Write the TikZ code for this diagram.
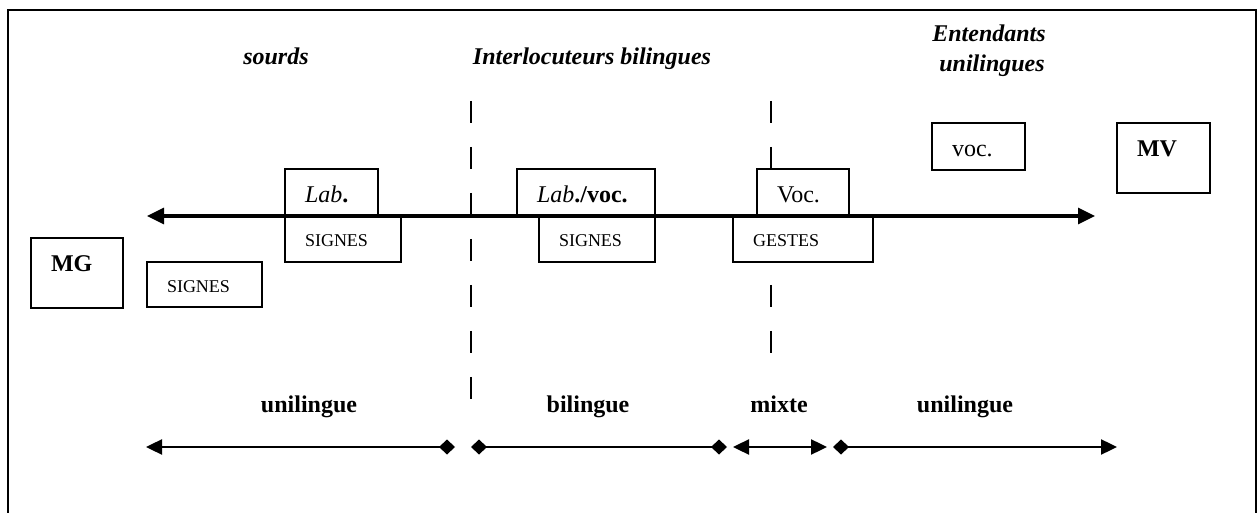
\documentclass[tikz,border=0pt]{standalone}
\usepackage{fontspec}
\setmainfont{Liberation Serif}
\usetikzlibrary{arrows.meta}
\usetikzlibrary{positioning}
\newcommand{\tBig}{\fontsize{12}{15}\selectfont}
\newcommand{\tSmall}{\fontsize{9}{11}\selectfont}
\newcommand{\tLab}{\textit{Lab}}

\begin{document}
\begin{tikzpicture}[x=0.5pt,y=-0.5pt,font=\tBig,
		big/.tip={Triangle[length=8.5pt,width=8pt]},
		tri/.tip={Triangle[length=8pt,width=7.5pt]},
		dia/.tip={Diamond[length=8pt,width=7.5pt]},
		frame/.style={line width=1pt},
		sep/.style={line width=0.9pt,dash pattern=on 11pt off 12pt},
		box/.style 2 args={rectangle,draw,fill=white,line width=0.65pt,outer sep=0pt,anchor=north west,
			align=left,inner xsep=10pt,inner ysep=0pt,text height=17pt,text width=#1,text depth=#2},
		small/.style={font=\tSmall,text height=15.5pt},
		head/.style={font=\tBig\bfseries\itshape,anchor=base},
		zone/.style={font=\tBig\bfseries,anchor=base}]
		\useasboundingbox (0,0) rectangle (1259,513);
		\draw[frame] (8,520) -- (8,10) -- (1256,10) -- (1256,520);
		
		\coordinate (d1t) at (471,101);
		\coordinate (d1b) at (471,401);
		\coordinate (d2t) at (771,101);
		\coordinate (d2b) at (771,355);
		\draw[sep] (d1t) -- (d1b);
		\draw[sep] (d2t) -- (d2b);
		
		\node[box={26.5pt}{6.5pt}]  (lab)     at (285,169)   {\tLab\textbf{.}};
		\node[box={38pt}{7.5pt},small,below right=0pt and 0pt of lab.south west] (signesA) {SIGNES};
		\node[box={26pt}{18pt}]     (mg)      at (31,238)    {\textbf{MG}};
		\node[box={37.5pt}{7pt},small] (signesB) at (147,262) {SIGNES};
		\node[box={49pt}{6.5pt}]    (labvoc)  at (517,169)   {\tLab\textbf{./voc.}};
		\node[box={38pt}{7.5pt},small,below left=0pt and 0pt of labvoc.south east] (signesC) {SIGNES};
		\node[box={26pt}{6.5pt}]    (voc)     at (757,169)   {Voc.};
		\node[box={50pt}{7.5pt},small] (gestes) at (733,216) {GESTES};
		\node[box={26.5pt}{6.5pt}]  (vocB)    at (932,123)   {voc.};
		\node[box={26.5pt}{18pt}]   (mv)      at (1117,123)  {\textbf{MV}};
		
		\coordinate (axL) at (147,216);
		\coordinate (axR) at (1095,216);
		\draw[line width=1.6pt,arrows=big-big] (axL) -- (axR);
		
		\node[head] (sourds)     at (276,65)  {sourds};
		\node[head] (interloc)   at (592,65)  {Interlocuteurs bilingues};
		\node[head] (entendants) at (989,42)  {Entendants};
		\node[head] (unilingues) at (992,72)  {unilingues};
		
		\node[zone] (uniA)  at (309,412) {unilingue};
		\node[zone] (bil)   at (588,412) {bilingue};
		\node[zone] (mixte) at (779,412) {mixte};
		\node[zone] (uniB)  at (965,412) {unilingue};
		
		\coordinate (s0) at (146,447);
		\coordinate (s1) at (455,447);
		\coordinate (s2) at (471,447);
		\coordinate (s3) at (727,447);
		\coordinate (s4) at (733,447);
		\coordinate (s5) at (827,447);
		\coordinate (s6) at (833,447);
		\coordinate (s7) at (1117,447);
		\path[line width=1.2pt]
		(s0) edge[arrows=tri-dia] (s1)
		(s2) edge[arrows=dia-dia] (s3)
		(s4) edge[arrows=tri-tri] (s5)
		(s6) edge[arrows=dia-tri] (s7);
		\end{tikzpicture}
\end{document}
